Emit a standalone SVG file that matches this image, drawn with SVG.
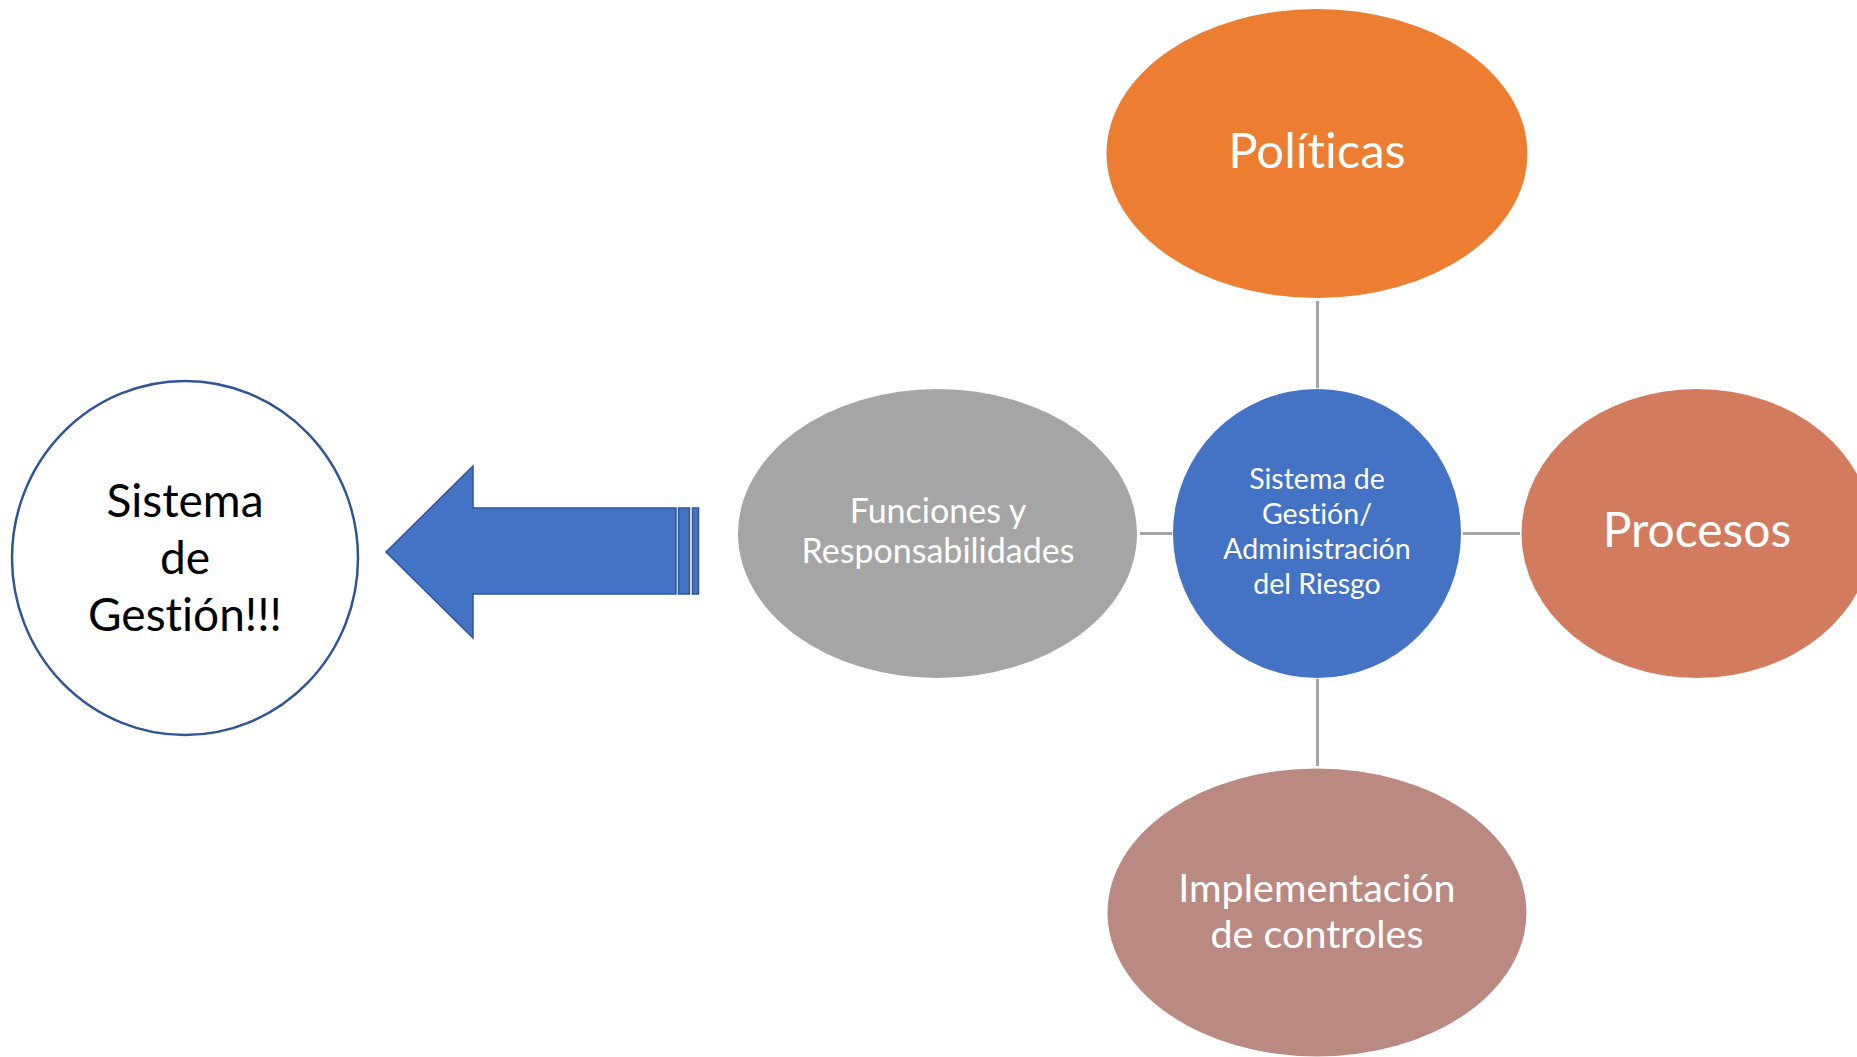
<svg xmlns="http://www.w3.org/2000/svg" width="1857" height="1057" viewBox="0 0 1857 1057">
<style>
.t{font-family:Lato,"Open Sans",sans-serif;fill:#fff;text-anchor:middle;font-variant-ligatures:none;font-feature-settings:"liga" 0,"dlig" 0}
.k{fill:#000}
.conn line{stroke:#A5A5A5;stroke-width:3}
</style>
<rect width="1857" height="1057" fill="#fff"/>
<g id="connectors" class="conn">
<line x1="1317.5" y1="301" x2="1317.5" y2="388"/>
<line x1="1317.5" y1="679" x2="1317.5" y2="766"/>
<line x1="1140" y1="533.5" x2="1172" y2="533.5"/>
<line x1="1463" y1="533.5" x2="1520" y2="533.5"/>
</g>
<g id="gestion">
<ellipse cx="185" cy="558" rx="173" ry="177" fill="#fff" stroke="#2F5597" stroke-width="2.5"/>
<text class="t k" font-size="46" x="185" y="517">Sistema</text>
<text class="t k" font-size="46" x="185" y="574">de</text>
<text class="t k" font-size="46" x="185" y="631">Gestión!!!</text>
</g>
<g id="arrow" fill="#4472C4" stroke="#2F5597" stroke-width="1.5">
<polygon points="386,552 473,466 473,508 676,508 676,594 473,594 473,638"/>
<rect x="678.5" y="508" width="11" height="86"/>
<rect x="692.5" y="508" width="6" height="86"/>
</g>
<g id="politicas">
<ellipse cx="1317" cy="153.5" rx="210.5" ry="144.5" fill="#ED7D31"/>
<text class="t" font-size="49" x="1317" y="168">Políticas</text>
</g>
<g id="funciones">
<ellipse cx="937.5" cy="533.5" rx="199.5" ry="144.5" fill="#A5A5A5"/>
<text class="t" font-size="34" x="938" y="522.5">Funciones y</text>
<text class="t" font-size="34" x="938" y="562.5">Responsabilidades</text>
</g>
<g id="sistema">
<ellipse cx="1317" cy="533.5" rx="144" ry="144.5" fill="#4472C4"/>
<text class="t" font-size="28.5" x="1317" y="488.5">Sistema de</text>
<text class="t" font-size="28.5" x="1317" y="524">Gestión/</text>
<text class="t" font-size="28.5" x="1317" y="559">Administración</text>
<text class="t" font-size="28.5" x="1317" y="594">del Riesgo</text>
</g>
<g id="procesos">
<ellipse cx="1697" cy="533.5" rx="175.5" ry="144.5" fill="#D27B5E"/>
<text class="t" font-size="48" x="1697" y="547">Procesos</text>
</g>
<g id="implementacion">
<ellipse cx="1317" cy="912.5" rx="209.5" ry="144" fill="#BA8A82"/>
<text class="t" font-size="39.5" x="1317" y="902">Implementación</text>
<text class="t" font-size="39.5" x="1317" y="947.5">de controles</text>
</g>
</svg>
